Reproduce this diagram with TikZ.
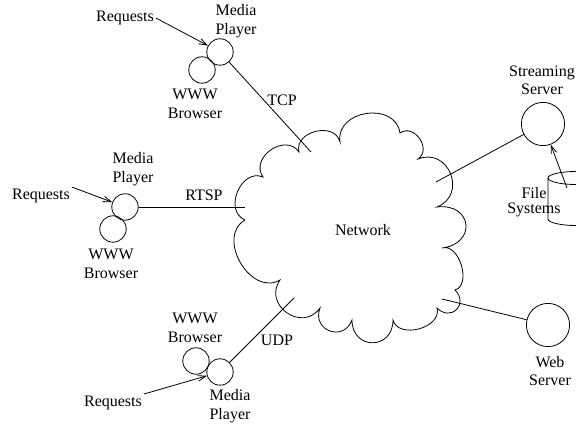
\documentclass[tikz,border=0pt]{standalone}
\usepackage{fontspec}
\setmainfont{Liberation Serif}
\usetikzlibrary{arrows.meta}
\tikzset{host/.style={circle, draw, minimum size=16.5pt, inner sep=0pt},
	server/.style={circle, draw, minimum size=27pt, inner sep=0pt},
	lbl/.style={align=center, inner sep=1pt, font=\fontsize{10}{11.5}\selectfont},
	puff/.style={bend left=90, looseness=#1},
	puff/.default=1.35}

\begin{document}
\begin{tikzpicture}[x=0.625pt, y=-0.625pt, line width=0.5pt]
		\useasboundingbox (0,0) rectangle (576,425);
		\clip (0,0) rectangle (576,425);
		% the network cloud
		\draw (245,220) to[puff=1.31] (263,177) to[puff=1.39] (299,152)
			to[puff=1.3] (340,142) to[puff=1.37] (400,133) to[puff=1.4] (418,159)
			to[puff=1.64] (437,207) to[puff=2.2] (442,248) to[puff=1.04] (455,290)
			to[puff=2.0] (437,308) to[puff=1.15] (393,320) to[puff=1.9] (352,320)
			to[puff=1.8] (320,308) to[puff=1.6] (280,280) to[puff=1.25] (245,220);
		% file systems
		\draw (548,178) -- (548,219) arc[start angle=180, end angle=0, x radius=28, y radius=6.5];
		\draw (576,178) ellipse [x radius=28, y radius=6.5];
		\begin{scope}[every node/.style={host}]
			\node(WBa) at (202,70) {};
			\node(MPa) at (220,52) {};
			\node(WBb) at (113,229) {};
			\node(MPb) at (125,207) {};
			\node(WBc) at (196,361) {};
			\node(MPc) at (220,372) {};
		\end{scope}
		\begin{scope}[every node/.style={server}]
			\node(SS) at (543,124) {};
			\node(WS) at (548,325) {};
		\end{scope}
		\begin{scope}[every node/.style={lbl}]
			\node(Net) at (363,230) {Network};
			\node(MPaL) at (236,21) {Media\\Player};
			\node(WBaL) at (195,104) {WWW\\Browser};
			\node(REQa) at (125,18) {Requests};
			\node(TCP) at (282,100) {TCP};
			\node(MPbL) at (133,169) {Media\\Player};
			\node(WBbL) at (111,264) {WWW\\Browser};
			\node(REQb) at (41,196) {Requests};
			\node(RTSP) at (204,195) {RTSP};
			\node(WBcL) at (195,328) {WWW\\Browser};
			\node(MPcL) at (230,406) {Media\\Player};
			\node(REQc) at (113,403) {Requests};
			\node(UDP) at (277,340) {UDP};
			\node(SSL) at (542,80) {Streaming\\Server};
			\node(FSL) at (534,202) {File\\[-2pt]Systems};
			\node(WSL) at (550,371) {Web\\Server};
		\end{scope}
		\coordinate(TCPend) at (311,152);
		\coordinate(RTSPend) at (245,207);
		\coordinate(UDPend) at (294,298);
		\coordinate(SSend) at (436,182);
		\coordinate(WSend) at (442,299);
		\coordinate(FS) at (567,188);
		\begin{scope}[>={Straight Barb[length=5pt, width=3.5pt]}]
			\path [->] (REQa.east) edge (MPa);
			\path [->] (REQb.north east) edge (MPb);
			\path [->] (REQc.north east) edge (MPc);
			\path [->] (FS) edge (SS);
		\end{scope}
		\draw (MPa) -- (TCPend);
		\draw (MPb) -- (RTSPend);
		\draw (MPc) -- (UDPend);
		\draw (SS) -- (SSend);
		\draw (WS) -- (WSend);
	\end{tikzpicture}
\end{document}
